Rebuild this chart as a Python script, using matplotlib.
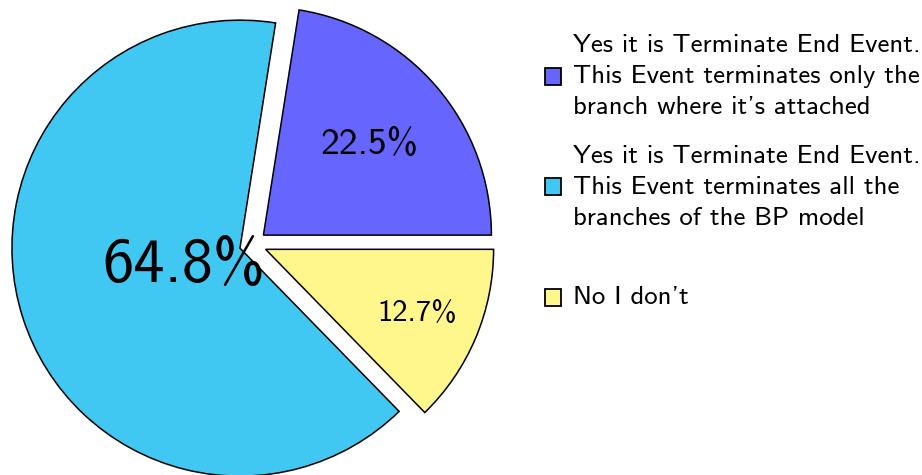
import numpy as np
import matplotlib
matplotlib.use("Agg")
import matplotlib.pyplot as plt

# data
labels = [
    "Yes it is Terminate End Event.\nThis Event terminates only the\nbranch where it's attached",
    "Yes it is Terminate End Event.\nThis Event terminates all the\nbranches of the BP model",
    "\nNo I don't\n",
]
values = [22.5, 64.8, 12.7]
colors = ["#6666ff", "#40c8f2", "#fff68c"]
pct_sizes = [27, 45, 22]
pct_dist = [0.61, 0.26, 0.72]

FONT = "cmss10"
W, H = 922, 475
fig = plt.figure(figsize=(W / 100, H / 100), dpi=100)

cx, cy, R = 253, 244, 228
half = 300
ax = fig.add_axes([(cx - half) / W, (H - cy - half) / H, 2 * half / W, 2 * half / H])
explode = [0.06, 0.06, 0.06]
wedges, _ = ax.pie(values, colors=colors, startangle=0, counterclock=True,
                   explode=explode, radius=1.0,
                   wedgeprops=dict(edgecolor="black", linewidth=1.1))
lim = half / R
ax.set_xlim(-lim, lim)
ax.set_ylim(-lim, lim)
ax.set_aspect("equal")
ax.axis("off")

total = sum(values)
start = 0.0
for v, d, e, fs in zip(values, pct_dist, explode, pct_sizes):
    ang = np.deg2rad(start + 360 * v / total / 2)
    start += 360 * v / total
    x = (e + d) * np.cos(ang)
    y = (e + d) * np.sin(ang)
    ax.text(x, y, f"{v:.1f}%", ha="center", va="center", fontsize=fs, family=FONT)

leg = fig.legend(wedges, labels, loc="upper left", bbox_to_anchor=(537 / W, 1 - 26 / H),
                 frameon=False, prop=dict(family=FONT, size=19.3),
                 handlelength=0.6, handleheight=0.6, handletextpad=0.45,
                 labelspacing=0.95, borderaxespad=0, borderpad=0.3)
for t in leg.get_texts():
    t.set_linespacing(1.45)
for p in leg.get_patches():
    p.set_edgecolor("black")
    p.set_linewidth(1.3)

fig.savefig("out.png", dpi=100)
